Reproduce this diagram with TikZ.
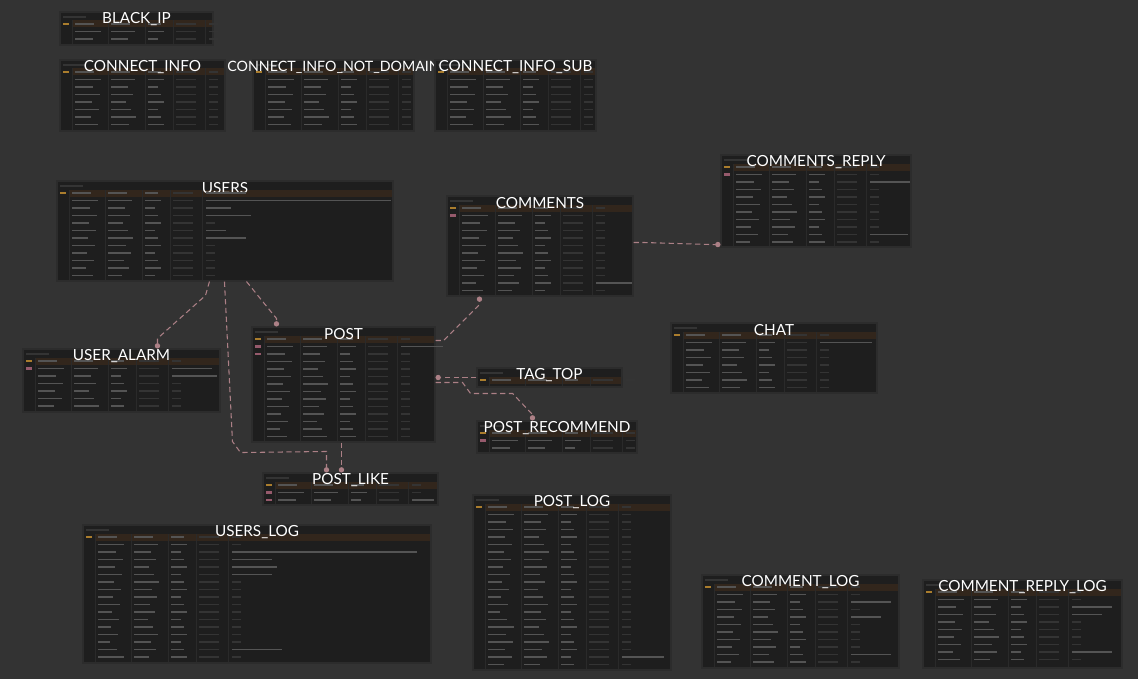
\documentclass[tikz,border=0pt]{standalone}
\usepackage{fontspec}
\setmainfont{Lato}
\usepackage{tikz}
\usetikzlibrary{arrows.meta, positioning, fit, calc}

\definecolor{bgcol}{RGB}{51,51,51}
\definecolor{tblfill}{RGB}{30,30,30}
\definecolor{tbledge}{RGB}{44,44,44}
\definecolor{bandcol}{RGB}{50,38,28}
\definecolor{txtgray}{RGB}{84,84,84}
\definecolor{dimgray}{RGB}{52,52,52}
\definecolor{rulegray}{RGB}{42,42,42}
\definecolor{pkcol}{RGB}{170,125,45}
\definecolor{fkcol}{RGB}{150,90,108}
\definecolor{relcol}{RGB}{172,128,134}

\tikzset{
  tbl/.style={draw=tbledge, fill=tblfill, inner sep=0pt, line width=0.6pt},
  ttl/.style={text=white, inner sep=0pt, font=\fontsize{8.7}{10}\selectfont},
  rowtxt/.style={draw=txtgray, line width=1.0pt},
  rowdim/.style={draw=dimgray, line width=1.0pt},
  colrule/.style={draw=rulegray, line width=0.4pt},
  keyband/.style={fill=bandcol},
  pkbar/.style={draw=pkcol, line width=1.3pt},
  fkbar/.style={draw=fkcol, line width=1.3pt},
  rel/.style={draw=relcol, line width=0.6pt, densely dashed, -{Circle[length=3pt]}}
}

% #1 name, #2 title, #3 x1, #4 y1, #5 x2, #6 y2, #7 rows, #8 key rows
\newcommand{\erdtable}[8]{%
  \node[tbl, fit={(#3,#4) (#5,#6)}] (#1) {};
  \draw[rowdim] (#3+3,#4+5) -- (#3+26,#4+5);
  \fill[keyband] (#3+12,#4+8.5) rectangle (#5-1,#4+15.5);
  \foreach \cx in {12,48,85,113,145}
    \draw[colrule] (#3+\cx,#4+8.5) -- (#3+\cx,#6-1);
  \foreach \rw in {1,...,#7} {
    \pgfmathsetmacro\ry{#4+12+(\rw-1)*7.5}
    \draw[rowtxt] (#3+15,\ry) -- ++({12+mod(\rw*7,15)},0);
    \draw[rowtxt] (#3+51,\ry) -- ++({14+mod(\rw*5,12)},0);
    \draw[rowtxt] (#3+88,\ry) -- ++({10+mod(\rw*3,9)},0);
    \draw[rowdim] (#3+116,\ry) -- ++(20,0);
    \draw[rowdim] (#3+149,\ry) -- ++(9,0);
  }
  \foreach \k in {1,...,#8}
    \draw[fkbar] (#3+3,{#4+12+(\k-1)*7.5}) -- ++(6,0);
  \draw[pkbar] (#3+3,#4+12) -- ++(6,0);
  \node[ttl] (#1-t) at ([yshift=-0.15cm]#1.north) {#2};
}

% comment texts: #1 x1, #2 y1, #3 row/length list
\newcommand{\erdnotes}[3]{%
  \foreach \rw/\len in {#3}
    \draw[rowtxt] (#1+149,{#2+12+(\rw-1)*7.5}) -- ++(\len,0);
}

\begin{document}
\begin{tikzpicture}[x=0.02cm, y=-0.02cm]

  % canvas
  \fill[bgcol] (0,0) rectangle (1138,679);

  % top row
  \erdtable{blackip}{BLACK\_IP}{60}{12}{213}{45}{3}{1}
  \erdtable{cinfo}{CONNECT\_INFO}{60}{60}{225}{131}{8}{1}
  \erdtable{cnotdom}{\fontsize{8.1}{10}\selectfont CONNECT\_INFO\_NOT\_DOMAIN}{253}{60}{414}{131}{8}{1}
  \erdtable{csub}{CONNECT\_INFO\_SUB}{435}{60}{596}{131}{8}{1}

  % users, comments
  \erdtable{users}{USERS}{57}{181}{393}{281}{12}{1}
  \erdnotes{57}{181}{1/40,2/185,3/25,4/45,6/20,7/40}
  \erdtable{comments}{COMMENTS}{447}{196}{633}{296}{12}{2}
  \erdnotes{447}{196}{11/36}
  \erdtable{reply}{COMMENTS\_REPLY}{721}{155}{911}{247}{11}{2}
  \erdnotes{721}{155}{3/40,10/38}

  % middle
  \erdtable{alarm}{USER\_ALARM}{23}{349}{220}{412}{7}{2}
  \erdnotes{23}{349}{2/40,3/45}
  \erdtable{post}{POST}{252}{327}{435}{442}{14}{3}
  \erdnotes{252}{327}{2/42}
  \erdtable{tagtop}{TAG\_TOP}{477}{368}{622}{387}{1}{1}
  \erdtable{recommend}{POST\_RECOMMEND}{477}{421}{637}{453}{3}{2}
  \erdtable{chat}{CHAT}{671}{323}{877}{393}{8}{1}
  \erdnotes{671}{323}{2/52}
  \erdtable{postlike}{POST\_LIKE}{263}{473}{438}{505}{3}{3}
  \erdnotes{263}{473}{3/22}

  % log tables
  \erdtable{userslog}{USERS\_LOG}{83}{525}{431}{663}{17}{1}
  \erdnotes{83}{525}{3/185,4/40,5/45,6/40,16/50}
  \erdtable{postlog}{POST\_LOG}{473}{495}{671}{670}{22}{1}
  \erdnotes{473}{495}{21/42}
  \erdtable{commentlog}{COMMENT\_LOG}{702}{575}{899}{668}{11}{1}
  \erdnotes{702}{575}{3/40,5/30,10/40}
  \erdtable{replylog}{COMMENT\_REPLY\_LOG}{923}{580}{1122}{668}{10}{1}
  \erdnotes{923}{580}{3/40,4/30,9/40}

  % relations
  \draw[rel] ($(users.south west)+(153,0)$) -- ++(-4,14)
    -- ($(alarm.north west)+(135,-10)$) -- ($(alarm.north west)+(135,0)$);
  \draw[rel] ($(users.south west)+(168,0)$) -- ++(8,160) -- ++(8,11)
    -- ($(postlike.north west)+(64,-21)$) -- ($(postlike.north west)+(64,0)$);
  \draw[rel] ($(post.south west)+(90,0)$) -- ($(postlike.north west)+(79,0)$);
  \draw[rel] ($(users.south west)+(190,0)$)
    -- ($(post.north west)+(25,-8)$) -- ($(post.north west)+(25,0)$);
  \draw[rel] ($(post.north east)+(0,14)$) -- ++(8,0)
    -- ($(comments.south west)+(33,8)$) -- ($(comments.south west)+(33,0)$);
  \draw[rel] ($(comments.north east)+(0,47)$) -- ++(10,0)
    -- ($(reply.south west)+(-10,-3)$) -- ($(reply.south west)+(0,-3)$);
  \draw[rel] (tagtop.west) -- (post.east |- tagtop.west);
  \draw[rel] ($(post.north east)+(0,56)$) -- ++(27,0) -- ++(8,11) -- ++(42,0)
    -- ($(recommend.north west)+(56,-6)$) -- ($(recommend.north west)+(56,0)$);

\end{tikzpicture}
\end{document}
